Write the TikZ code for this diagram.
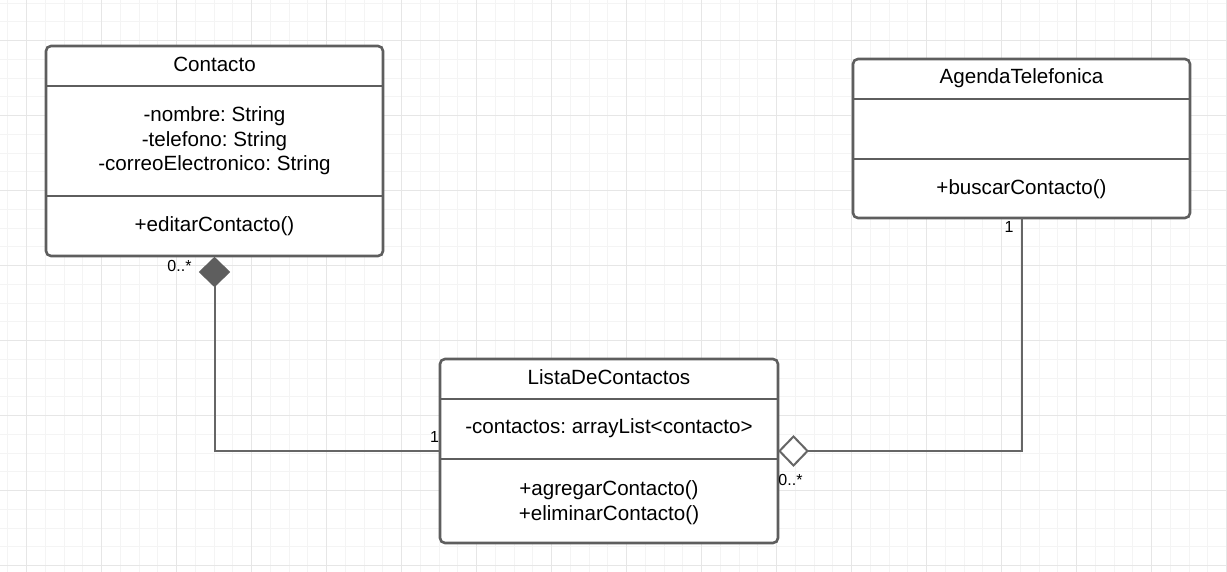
\documentclass[tikz,border=0pt]{standalone}
\usepackage{fontspec}
\setmainfont{Liberation Sans}
\frenchspacing
\usetikzlibrary{positioning,shapes.geometric,calc}

\definecolor{umlgray}{HTML}{5E5E5E}
\definecolor{wiregray}{HTML}{666666}
\definecolor{gridminor}{HTML}{F4F4F4}
\definecolor{gridmajor}{HTML}{E6E6E6}

\begin{document}
\begin{tikzpicture}[
  x=1pt, y=-1pt,
  classbox/.style={draw=umlgray, line width=2.6pt, rounded corners=5pt,
                   fill=white, inner sep=0pt, outer sep=0pt,
                   minimum width=337pt},
  sep/.style={draw=umlgray, line width=2.4pt},
  txt/.style={inner sep=0pt, anchor=base, align=center,
              font=\fontsize{20.6}{24.6}\selectfont\frenchspacing},
  mult/.style={inner sep=0pt, anchor=base, font=\fontsize{16}{19}\selectfont},
  wire/.style={draw=wiregray, line width=2pt},
  comp/.style={diamond, draw=umlgray, fill=umlgray, line width=1pt,
               minimum width=30pt, minimum height=29pt,
               inner sep=0pt, outer sep=0pt},
  agg/.style={diamond, draw=wiregray, fill=white, line width=2pt,
              minimum width=28pt, minimum height=29pt,
              inner sep=0pt, outer sep=0pt},
]
\useasboundingbox (0,0) rectangle (1227,572);
\fill[white] (0,0) rectangle (1227,572);

%% grid paper
\foreach \k in {-1,...,64}
  \draw[gridminor, line width=1pt] ({26.7+18.75*\k},0) -- ({26.7+18.75*\k},572);
\foreach \k in {-2,...,28}
  \draw[gridminor, line width=1pt] (0,{40.7+18.75*\k}) -- (1227,{40.7+18.75*\k});
\foreach \k in {0,...,16}
  \draw[gridmajor, line width=1.2pt] ({26.7+75*\k},0) -- ({26.7+75*\k},572);
\foreach \k in {0,...,7}
  \draw[gridmajor, line width=1.2pt] (0,{40.7+75*\k}) -- (1227,{40.7+75*\k});

%% Contacto
\node[classbox, minimum height=210pt] (contacto) at (214.5,151) {};
\draw[sep] (contacto.west |- 0,86)  -- (contacto.east |- 0,86);
\draw[sep] (contacto.west |- 0,196) -- (contacto.east |- 0,196);
\node[txt] (contactoName) at (214.5,72) {Contacto};
%% base of a multi-line node = baseline of its last line
\node[txt] (contactoAttr) at (214.5,171)
  {-nombre: String\\-telefono: String\\-correoElectronico: String};
\node[txt] (contactoOps) at (214.5,231.7) {+editarContacto()};

%% AgendaTelefonica
\node[classbox, minimum height=159pt] (agenda) at (1021.5,138.5) {};
\draw[sep] (agenda.west |- 0,99)  -- (agenda.east |- 0,99);
\draw[sep] (agenda.west |- 0,159) -- (agenda.east |- 0,159);
\node[txt] (agendaName) at (1021.5,83.5) {AgendaTelefonica};
\node[txt] (agendaOps) at (1021.5,195) {+buscarContacto()};

%% ListaDeContactos
\node[classbox, minimum width=338pt, minimum height=184pt] (lista) at (609,451) {};
\draw[sep] (lista.west |- 0,399) -- (lista.east |- 0,399);
\draw[sep] (lista.west |- 0,459) -- (lista.east |- 0,459);
\node[txt] (listaName) at (609,384.3) {ListaDeContactos};
\node[txt] (listaAttr) at (609,433.3) {-contactos: arrayList<contacto>};
\node[txt] (listaOps) at (609,520) {+agregarContacto()\\+eliminarContacto()};

%% associations
\node[comp, anchor=north] (compTip) at ([yshift=-1.5pt]contacto.south) {};
\node[agg, anchor=west] (aggTip) at ([xshift=1.5pt]lista.east) {};
\draw[wire] (compTip.south) |- (lista.west);
\draw[wire] (agenda.south) |- (aggTip.east);

\node[mult] (contactoMult) at (179.5,272) {0..*};
\node[mult] (listaMultL) at (434.5,442) {1};
\node[mult] (agendaMult) at (1009,233) {1};
\node[mult] (listaMultR) at (790.5,485) {0..*};
\end{tikzpicture}
\end{document}
